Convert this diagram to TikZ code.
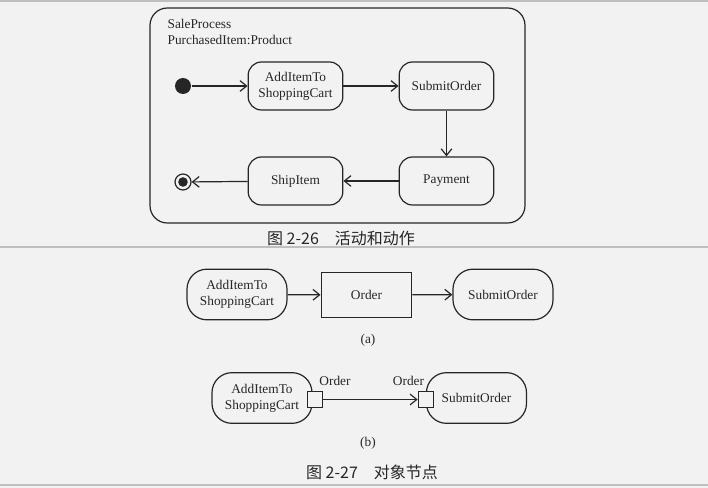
\documentclass[tikz,border=0pt]{standalone}
\usepackage{fontspec}
\setmainfont{Liberation Serif}
\newfontfamily\cjk{Noto Sans CJK SC}
\usetikzlibrary{arrows.meta}

\begin{document}
\begin{tikzpicture}[
  x=0.75pt,y=-0.75pt,
  line width=0.9pt,color=black!85,
  >={Straight Barb[length=5pt,width=8pt]},
  paper/.style={fill=black!5},
  action/.style={draw,rounded corners=10pt,minimum width=71pt,minimum height=36pt,
    align=center,inner sep=2pt},
  roundaction/.style={action,rounded corners=15pt,minimum width=75pt,minimum height=38pt},
  object/.style={draw,rectangle,minimum width=68pt,minimum height=34pt},
  pin/.style={draw,rectangle,paper,minimum size=11.5pt,inner sep=0pt},
  caption/.style={font=\cjk\fontsize{12}{14}\selectfont}
  ]
  % Paper and page edges
  \fill[paper] (0,0) rectangle (708,488);
  \useasboundingbox (0,0) rectangle (708,488);
  \draw[black!25,line width=1.5pt] (0,1) -- (708,1);
  \draw[black!25,line width=1.5pt] (0,247) -- (708,247);
  \draw[black!25,line width=1.5pt] (0,485) -- (708,485);
  % Figure 2-26: activity frame
  \draw[rounded corners=13pt] (150,8) rectangle (525,223);
  \node[anchor=north west,align=left,inner sep=0pt] (title) at (167,19)
    {SaleProcess\\PurchasedItem:Product};
  \node[circle,fill,minimum size=12pt,inner sep=0pt] (init) at (183,86) {};
  \node[action] (add)     at (295.5,86)  {AddItemTo\\ShoppingCart};
  \node[action] (submit)  at (446.5,86)  {SubmitOrder};
  \node[action] (payment) at (446.5,181) {Payment};
  \node[action] (ship)    at (295.5,181) {ShipItem};
  \node[circle,draw,minimum size=12pt,inner sep=0pt] (final) at (183,182) {};
  \fill (final) circle (3.6pt);
  \draw[->] (init) -- (add);
  \draw[->] (add) -- (submit);
  \draw[->] (submit) -- (payment);
  \draw[->] (payment) -- (ship);
  \draw[->] (ship) -- (final);
  \node[caption] (cap26) at (341,238) {图 2-26\quad 活动和动作};
  % Figure 2-27 (a): object node between actions
  \node[roundaction] (adda)    at (237,294.5) {AddItemTo\\ShoppingCart};
  \node[object]      (order)   at (366.5,295) {Order};
  \node[roundaction] (submita) at (503,294.5) {SubmitOrder};
  \draw[->] (adda) -- (order);
  \draw[->] (order) -- (submita);
  \node (suba) at (368,340) {(a)};
  % Figure 2-27 (b): pins
  \node[roundaction] (addb)    at (262,398)   {AddItemTo\\ShoppingCart};
  \node[roundaction] (submitb) at (476.5,398) {SubmitOrder};
  \node[pin] (outpin) at (315,399.5) {};
  \node[pin] (inpin)  at (426,399.5) {};
  \node (outlabel) at (335,381)   {Order};
  \node (inlabel)  at (408.5,381) {Order};
  \draw[->] (outpin) -- (inpin);
  \node (subb) at (368,443) {(b)};
  \node[caption] (cap27) at (372,472) {图 2-27\quad 对象节点};
\end{tikzpicture}
\end{document}
